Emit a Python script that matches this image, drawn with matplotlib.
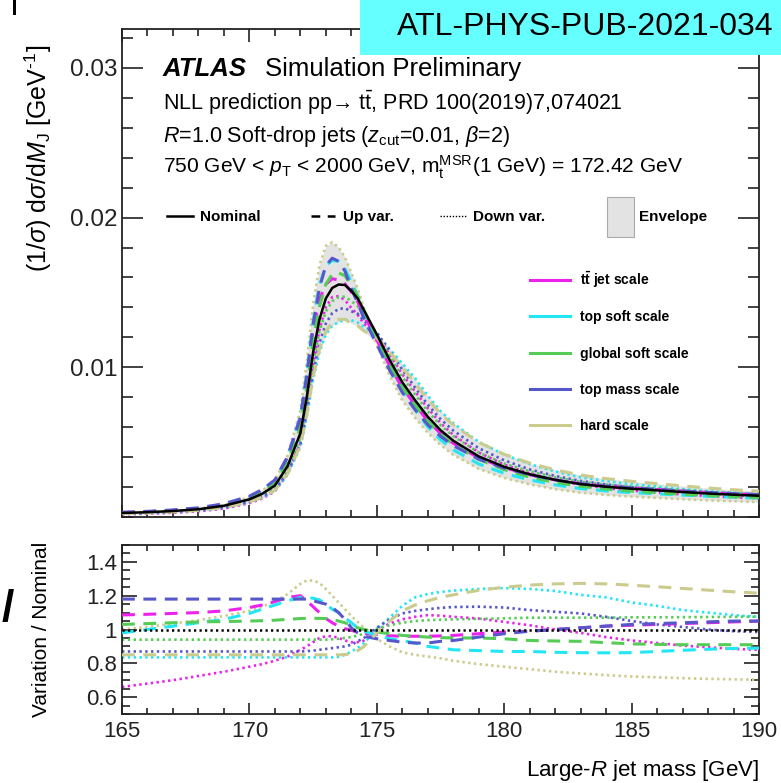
import numpy as np
import matplotlib
matplotlib.use("Agg")
import matplotlib.pyplot as plt
from matplotlib.lines import Line2D
from matplotlib.patches import Rectangle

plt.rcParams['font.family'] = ['Liberation Sans', 'DejaVu Sans']
plt.rcParams['mathtext.fontset'] = 'custom'
plt.rcParams['mathtext.rm'] = 'Liberation Sans'
plt.rcParams['mathtext.it'] = 'Liberation Sans:italic'
plt.rcParams['mathtext.bf'] = 'Liberation Sans:bold'

# ---------------- data ----------------
mass = [165, 166, 167, 168, 169, 170, 170.5, 171, 171.5, 172, 172.25, 172.5, 172.75,
        173, 173.25, 173.5, 173.75, 174, 174.25, 174.5, 175, 175.5, 176, 176.5, 177,
        177.5, 178, 179, 180, 181, 182, 183, 184, 185, 186, 187, 188, 189, 190]

nominal = [0.00027, 0.00032, 0.00040, 0.00052, 0.00075, 0.00118, 0.00155, 0.00210,
           0.00340, 0.00560, 0.00800, 0.01100, 0.01320, 0.01460, 0.01530, 0.01553,
           0.01550, 0.01510, 0.01460, 0.01380, 0.01220, 0.01050, 0.00900, 0.00780,
           0.00670, 0.00580, 0.00510, 0.00405, 0.00335, 0.00285, 0.00248, 0.00220,
           0.00202, 0.00189, 0.00178, 0.00167, 0.00157, 0.00149, 0.00142]

# ratios variation / nominal
ttjet_up = [1.086, 1.09, 1.095, 1.10, 1.11, 1.13, 1.145, 1.165, 1.19, 1.20, 1.17, 1.135, 1.10,
            1.065, 1.04, 1.02, 1.005, 0.995, 0.985, 0.978, 0.97, 0.963, 0.96, 0.96, 0.96,
            0.962, 0.965, 0.975, 0.985, 0.99, 1.0, 1.01, 1.02, 1.025, 1.03, 1.035, 1.04, 1.045, 1.05]
ttjet_down = [0.66, 0.68, 0.70, 0.725, 0.75, 0.78, 0.795, 0.815, 0.84, 0.88, 0.90, 0.925, 0.95,
              0.96, 0.96, 0.95, 0.935, 0.925, 0.925, 0.935, 0.995, 1.035, 1.06, 1.075, 1.085,
              1.082, 1.075, 1.065, 1.045, 1.025, 1.0, 0.98, 0.955, 0.935, 0.92, 0.905, 0.895, 0.885, 0.88]
soft_up = [0.98, 1.0, 1.02, 1.04, 1.06, 1.095, 1.12, 1.145, 1.17, 1.19, 1.19, 1.185, 1.175,
           1.15, 1.12, 1.10, 1.07, 1.04, 1.01, 0.99, 0.965, 0.945, 0.935, 0.92, 0.90,
           0.89, 0.88, 0.875, 0.87, 0.87, 0.865, 0.863, 0.862, 0.863, 0.87, 0.877, 0.883, 0.888, 0.89]
soft_down = [0.835, 0.835, 0.835, 0.835, 0.835, 0.835, 0.835, 0.835, 0.835, 0.835, 0.835, 0.835, 0.835,
             0.835, 0.835, 0.838, 0.85, 0.87, 0.89, 0.92, 1.0, 1.07, 1.14, 1.19, 1.21,
             1.222, 1.23, 1.24, 1.245, 1.24, 1.228, 1.205, 1.19, 1.16, 1.14, 1.115, 1.10, 1.085, 1.075]
glob_up = [1.03, 1.035, 1.04, 1.045, 1.047, 1.05, 1.052, 1.055, 1.06, 1.065, 1.066, 1.066, 1.066,
           1.065, 1.06, 1.05, 1.04, 1.025, 1.01, 1.0, 0.985, 0.975, 0.965, 0.96, 0.955,
           0.952, 0.95, 0.95, 0.945, 0.935, 0.932, 0.93, 0.922, 0.915, 0.912, 0.91, 0.91, 0.91, 0.91]
glob_down = [0.94, 0.94, 0.94, 0.94, 0.94, 0.94, 0.94, 0.94, 0.94, 0.94, 0.94, 0.94, 0.94,
             0.94, 0.942, 0.945, 0.95, 0.955, 0.965, 0.975, 1.005, 1.025, 1.04, 1.05, 1.055,
             1.058, 1.06, 1.063, 1.066, 1.07, 1.07, 1.07, 1.07, 1.072, 1.072, 1.073, 1.074, 1.075, 1.076]
mass_up = [1.18, 1.18, 1.18, 1.18, 1.18, 1.18, 1.18, 1.18, 1.18, 1.18, 1.18, 1.17, 1.16,
           1.15, 1.13, 1.10, 1.06, 1.01, 0.98, 0.96, 0.945, 0.935, 0.925, 0.92, 0.92,
           0.93, 0.935, 0.955, 0.975, 0.99, 1.0, 1.01, 1.02, 1.03, 1.035, 1.04, 1.045, 1.05, 1.05]
mass_down = [0.87, 0.87, 0.87, 0.87, 0.87, 0.87, 0.87, 0.87, 0.87, 0.87, 0.872, 0.875, 0.88,
             0.885, 0.89, 0.895, 0.90, 0.91, 0.93, 0.95, 1.01, 1.06, 1.095, 1.11, 1.12,
             1.128, 1.133, 1.135, 1.13, 1.115, 1.105, 1.095, 1.075, 1.05, 1.03, 1.015, 1.0, 0.99, 0.985]
hard_up = [0.85, 0.85, 0.85, 0.85, 0.85, 0.85, 0.85, 0.85, 0.85, 0.85, 0.85, 0.85, 0.85,
           0.85, 0.85, 0.85, 0.852, 0.856, 0.875, 0.90, 0.98, 1.05, 1.11, 1.145, 1.17,
           1.19, 1.205, 1.232, 1.25, 1.263, 1.27, 1.273, 1.27, 1.262, 1.253, 1.243, 1.233, 1.223, 1.215]
hard_down = [1.0, 1.015, 1.035, 1.055, 1.08, 1.11, 1.135, 1.165, 1.21, 1.27, 1.29, 1.29, 1.275,
             1.24, 1.20, 1.16, 1.12, 1.08, 1.045, 1.01, 0.945, 0.90, 0.865, 0.85, 0.84,
             0.83, 0.815, 0.795, 0.78, 0.765, 0.75, 0.74, 0.73, 0.722, 0.717, 0.712, 0.708, 0.705, 0.703]

scale_names = [r"t$\mathbf{\bar{t}}$ jet scale", "top soft scale", "global soft scale",
               "top mass scale", "hard scale"]
scale_colors = ['#ec22ec', '#22e6f2', '#55cc55', '#5757cc', '#cbcb8e']
ups = [ttjet_up, soft_up, glob_up, mass_up, hard_up]
downs = [ttjet_down, soft_down, glob_down, mass_down, hard_down]

# ---------------- figure ----------------
W, H = 781, 783
fig = plt.figure(figsize=(W / 100, H / 100), dpi=100)
ax1 = fig.add_axes([122 / W, 1 - 517 / H, (759 - 122) / W, (517 - 29) / H])
ax2 = fig.add_axes([122 / W, 1 - 714 / H, (759 - 122) / W, (714 - 545) / H])

m = np.array(mass)
nom = np.array(nominal)

allvar = np.array([np.array(r) * nom for r in ups + downs])
ax1.fill_between(m, allvar.min(axis=0), allvar.max(axis=0), color='#e3e3e3', lw=0, zorder=1)

DASH = (0, (4.2, 2.8))
DOT = (0, (0.9, 1.3))
for r, c in zip(downs, scale_colors):
    ax1.plot(m, np.array(r) * nom, color=c, lw=1.9, ls=DOT, zorder=2)
    ax2.plot(m, r, color=c, lw=1.9, ls=DOT, zorder=2)
for r, c in zip(ups, scale_colors):
    ax1.plot(m, np.array(r) * nom, color=c, lw=2.2, ls=DASH, zorder=3)
    ax2.plot(m, r, color=c, lw=2.2, ls=DASH, zorder=3)
ax1.plot(m, nom, color='black', lw=1.8, zorder=4)
ax2.plot(m, np.ones_like(m), color='black', lw=1.8, ls=(0, (0.9, 1.3)), zorder=4)

for ax in (ax1, ax2):
    ax.set_xlim(165, 190)
    for s in ax.spines.values():
        s.set_linewidth(1.3)
        s.set_color('#222222')
    ax.set_xticks([165, 170, 175, 180, 185, 190])
    ax.set_xticks(np.arange(165, 191, 1), minor=True)
    ax.tick_params(which='both', direction='in', top=True, right=True, colors='#222222')

ax1.set_ylim(0, 0.0326)
ax1.set_yticks([0.01, 0.02, 0.03])
ax1.set_yticklabels(['0.01', '0.02', '0.03'])
ax1.set_yticks(np.arange(0, 0.0327, 0.002), minor=True)
ax1.set_xticklabels([])
ax1.tick_params(which='major', length=15, width=1.2, labelsize=17.5, pad=3.5)
ax1.tick_params(which='minor', length=8, width=1.2)
ax1.tick_params(axis='x', which='major', length=9)
ax1.tick_params(axis='x', which='minor', length=5)

ax2.set_ylim(0.5, 1.5)
ax2.set_yticks([0.6, 0.8, 1.0, 1.2, 1.4])
ax2.set_yticklabels(['0.6', '0.8', '1', '1.2', '1.4'])
ax2.set_yticks(np.arange(0.5, 1.501, 0.05), minor=True)
ax2.tick_params(which='major', length=11, width=1.2, labelsize=16, pad=3.5)
ax2.tick_params(which='minor', length=6, width=1.2)
ax2.tick_params(axis='x', which='major', length=8, pad=5)
ax2.tick_params(axis='x', which='minor', length=4.5)


def T(x, y, s, **kw):
    kw.setdefault('va', 'baseline')
    return fig.text(x / W, 1 - y / H, s, **kw)


# labels
T(38, 158, "(1/$\\sigma$) d$\\sigma$/d$M_{\\rm J}$ [GeV$^{\\rm \u2010 1}$]", rotation=90,
  ha='center', va='center', fontsize=18)
T(42, 629, "Variation / Nominal", rotation=90, ha='center', va='center', fontsize=15)
T(759, 776, r"Large-$R$ jet mass [GeV]", ha='right', fontsize=16)

# ATLAS block
T(163, 76, "ATLAS", fontsize=18.5, fontweight='bold', style='italic')
T(265, 76, "Simulation Preliminary", fontsize=18.5)
T(163, 110, "NLL prediction pp\u2192 t$\\bar{\\rm t}$, PRD 100(2019)7,074021", fontsize=15.5)
T(163, 142, r"$R$=1.0 Soft-drop jets ($z_{\rm cut}$=0.01, $\beta$=2)", fontsize=15.5)
T(163, 173, r"750 GeV < $p_{\rm T}$ < 2000 GeV, m$_{\rm t}^{\rm MSR}$(1 GeV) = 172.42 GeV", fontsize=15.1)

# style legend
ly = 1 - 216 / H
fig.add_artist(Line2D([167 / W, 193 / W], [ly, ly], color='black', lw=1.8))
T(200, 221, "Nominal", fontsize=11, fontweight='bold')
fig.add_artist(Line2D([311 / W, 335 / W], [ly, ly], color='black', lw=1.8, ls=(0, (3.5, 3))))
T(343, 221, "Up var.", fontsize=11, fontweight='bold')
fig.add_artist(Line2D([440 / W, 467 / W], [ly, ly], color='black', lw=1.0, ls=(0, (1, 1.2))))
T(473, 221, "Down var.", fontsize=11, fontweight='bold')
fig.add_artist(Rectangle((607 / W, 1 - 237 / H), 27 / W, 40 / H, transform=fig.transFigure,
                         facecolor='#e3e3e3', edgecolor='#aaaaaa', lw=0.8))
T(639, 221, "Envelope", fontsize=11, fontweight='bold')

# colour legend
for i, (name, c) in enumerate(zip(scale_names, scale_colors)):
    yb = 285 + i * 36.3
    yl = 1 - (yb - 5) / H
    fig.add_artist(Line2D([530 / W, 570 / W], [yl, yl], color=c, lw=2.2))
    T(580, yb, name, fontsize=10, fontweight='bold')

# publication tag
fig.add_artist(Rectangle((360 / W, 1 - 55 / H), (W - 360) / W, 55 / H, transform=fig.transFigure,
                         facecolor='#66ffff', edgecolor='none', zorder=10))
T(397, 35, "ATL-PHYS-PUB-2021-034", fontsize=23, zorder=11)

# cropped fragments at left edge
fig.add_artist(Rectangle((12.5 / W, 1 - 15 / H), 3.5 / W, 15 / H, transform=fig.transFigure,
                         facecolor='black', edgecolor='none'))
T(8, 610, "/", fontsize=32, fontweight='bold', ha='center', va='center')

fig.savefig("out.png", dpi=100)
